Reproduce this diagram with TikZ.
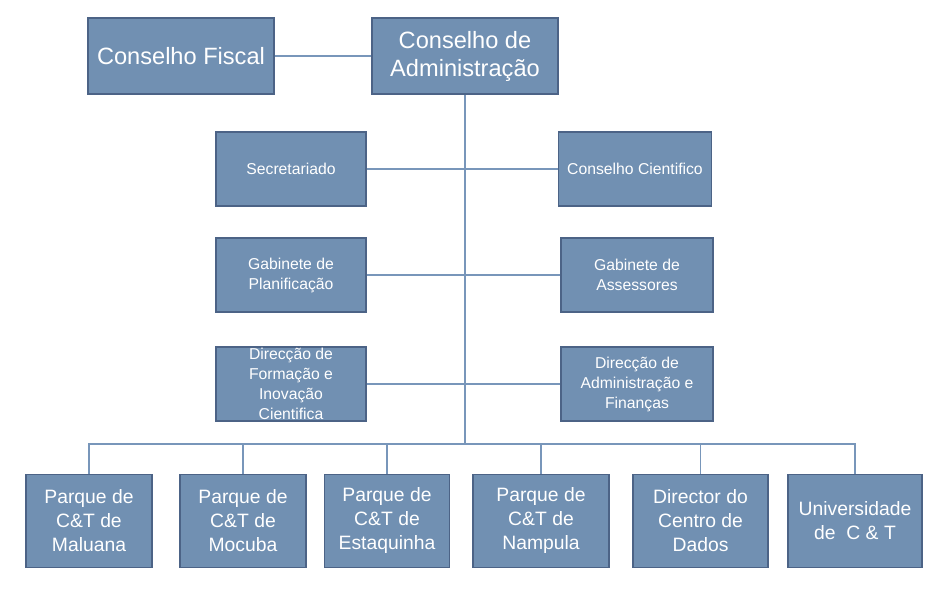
\documentclass[tikz,border=0pt]{standalone}
\usepackage{fontspec}
\setmainfont{Liberation Sans}
\definecolor{BoxFill}{HTML}{7190B2}
\definecolor{BoxEdge}{HTML}{4C6386}
\definecolor{LinkBlue}{HTML}{7896BA}
\usepackage{tikz}
\usetikzlibrary{
  positioning
}

\begin{document}
\begin{tikzpicture}[
  x=0.75pt, y=-0.75pt,
  orgbox/.style={
    rectangle, draw=BoxEdge, fill=BoxFill,
    line width=1.2pt, text=white,
    align=center, inner sep=1pt
  },
  topbox/.style={
    orgbox, minimum width=139.5pt, minimum height=57pt,
    font=\fontsize{17.7}{21}\selectfont
  },
  midbox/.style={
    orgbox, minimum width=112.5pt, minimum height=55.5pt,
    font=\fontsize{11.8}{15}\selectfont
  },
  unitbox/.style={
    orgbox, minimum height=70pt,
    font=\fontsize{14.5}{18}\selectfont
  },
  link/.style={
    draw=LinkBlue, line width=0.8pt
  }
]
  \useasboundingbox (0,0) rectangle (943,602);

  % Top level
  \node[topbox] (fiscal) at (181,56) {Conselho Fiscal};
  \node[topbox] (admin) at (465,56) {Conselho de\\Administração};

  % Staff (left and right of the trunk)
  \node[midbox] (secret) at (291,169) {Secretariado};
  \node[midbox, minimum width=114.75pt] (cient) at (635,169)
    {Conselho Cientifico};
  \node[midbox] (planif) at (291,275) {Gabinete de\\Planificação};
  \node[midbox, minimum width=114pt] (assess) at (637,275)
    {Gabinete de\\Assessores};
  \node[midbox] (formac) at (291,384)
    {Direcção de\\Formação e\\Inovação\\Cientifica};
  \node[midbox, minimum width=114pt] (financ) at (637,384)
    {Direcção de\\Administração e\\Finanças};

  % Units (bottom row)
  \node[unitbox, minimum width=94.5pt] (maluana) at (89,521)
    {Parque de\\C\&T de\\Maluana};
  \node[unitbox, minimum width=94.5pt] (mocuba) at (243,521)
    {Parque de\\C\&T de\\Mocuba};
  \node[unitbox, minimum width=94pt] (estaq) at (387,521)
    {Parque de\\C\&T de\\Estaquinha};
  \node[unitbox, minimum width=102pt] (nampula) at (541,521)
    {Parque de\\C\&T de\\Nampula};
  \node[unitbox, minimum width=101.25pt] (centro) at (700.5,521)
    {Director do\\Centro de\\Dados};
  \node[unitbox, minimum width=100.5pt] (unicet) at (855,521)
    {Universidade\\de\ \ C \& T};

  % Connections
  \coordinate (trunk) at (465,444);
  \draw[link] (fiscal) -- (admin);
  \draw[link] (admin.south) -- (trunk);
  \draw[link] (secret) -- (cient);
  \draw[link] (planif) -- (assess);
  \draw[link] (formac) -- (financ);
  \draw[link] (maluana.north) |- (trunk) -| (unicet.north);
  \foreach \unit in {mocuba,estaq,nampula,centro}
    \draw[link] (\unit.north) -- (\unit.north |- trunk);
\end{tikzpicture}
\end{document}
